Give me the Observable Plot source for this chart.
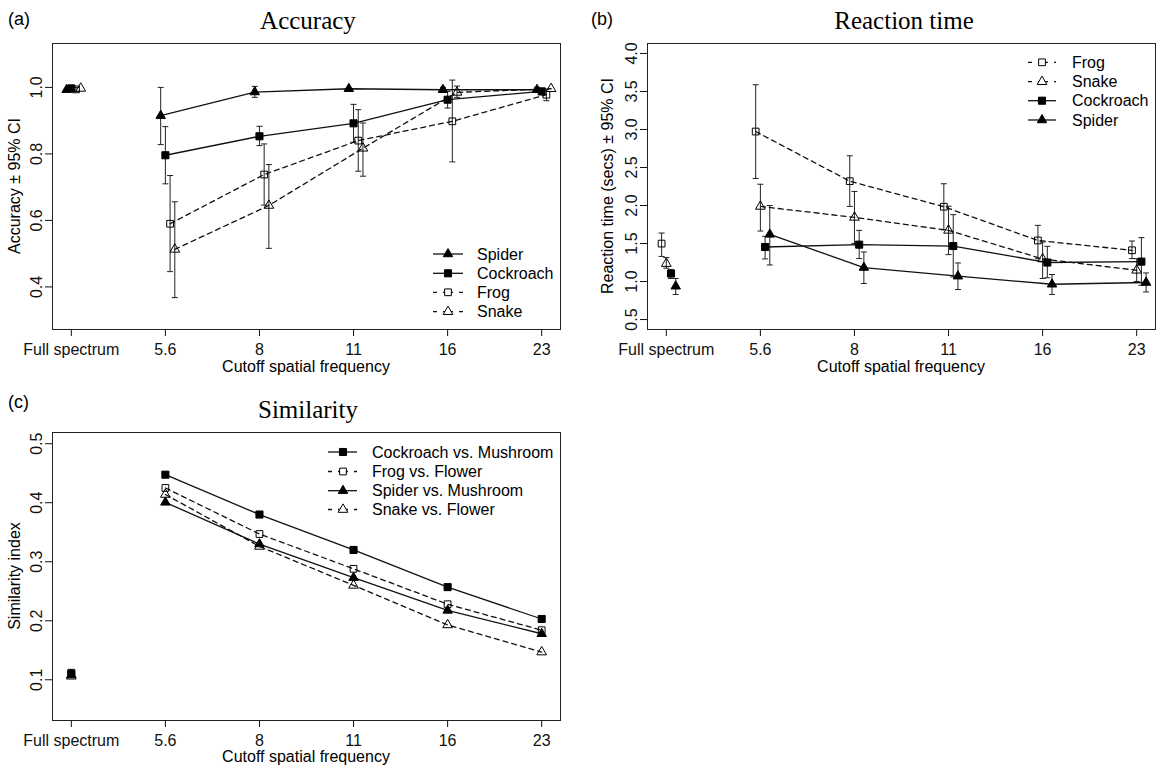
<!DOCTYPE html>
<html><head><meta charset="utf-8">
<script src="https://cdn.jsdelivr.net/npm/d3@7"></script>
<script src="https://cdn.jsdelivr.net/npm/@observablehq/plot@0.6"></script>
<style>
body{margin:0;background:#fff;}
#wrap{position:relative;width:1159px;height:768px;overflow:hidden;background:#fff;}
</style></head><body><div id="wrap"></div>
<script>
// ---------- data ----------
const xLabels = ["Full spectrum", "5.6", "8", "11", "16", "23"];

// (a) Accuracy (legend order)
const accNames = ["Spider", "Cockroach", "Frog", "Snake"];
const accSpider     = [0.993, 0.915, 0.986, 0.996, 0.993, 0.993];
const accSpiderLo   = [0.988, 0.828, 0.970, 0.990, 0.985, 0.986];
const accSpiderHi   = [0.998, 1.000, 1.003, 1.000, 1.000, 1.000];
const accCockroach   = [0.997, 0.796, 0.853, 0.892, 0.963, 0.988];
const accCockroachLo = [0.993, 0.710, 0.825, 0.835, 0.938, 0.978];
const accCockroachHi = [1.000, 0.882, 0.883, 0.949, 0.988, 0.996];
const accFrog   = [0.994, 0.590, 0.738, 0.840, 0.898, 0.978];
const accFrogLo = [0.988, 0.446, 0.646, 0.748, 0.776, 0.960];
const accFrogHi = [1.000, 0.735, 0.830, 0.933, 1.022, 0.995];
const accSnake   = [0.997, 0.513, 0.645, 0.817, 0.985, 0.996];
const accSnakeLo = [0.993, 0.368, 0.516, 0.733, 0.970, 0.990];
const accSnakeHi = [1.000, 0.656, 0.768, 0.893, 1.004, 1.000];

// (b) Reaction time (legend order)
const rtNames = ["Frog", "Snake", "Cockroach", "Spider"];
const rtFrog   = [1.499, 2.973, 2.320, 1.984, 1.540, 1.411];
const rtFrogLo = [1.330, 2.356, 1.988, 1.680, 1.300, 1.302];
const rtFrogHi = [1.638, 3.589, 2.654, 2.286, 1.739, 1.533];
const rtSnake   = [1.236, 1.988, 1.844, 1.673, 1.297, 1.148];
const rtSnakeLo = [1.175, 1.664, 1.500, 1.354, 1.040, 1.000];
const rtSnakeHi = [1.315, 2.280, 2.185, 1.990, 1.520, 1.300];
const rtCockroach   = [1.105, 1.454, 1.485, 1.467, 1.250, 1.262];
const rtCockroachLo = [1.040, 1.297, 1.302, 1.060, 1.050, 0.950];
const rtCockroachHi = [1.157, 1.595, 1.673, 1.880, 1.463, 1.577];
const rtSpider   = [0.938, 1.620, 1.184, 1.070, 0.964, 0.987];
const rtSpiderLo = [0.830, 1.218, 0.974, 0.895, 0.830, 0.863];
const rtSpiderHi = [1.040, 2.000, 1.389, 1.244, 1.092, 1.113];

// (c) Similarity (legend order)
const simNames  = ["Cockroach", "Frog", "Spider", "Snake"];
const simLabels = ["Cockroach vs. Mushroom", "Frog vs. Flower", "Spider vs. Mushroom", "Snake vs. Flower"];
const simCockroach = [0.110, 0.4475, 0.380, 0.320, 0.257, 0.203];
const simFrog      = [0.112, 0.425, 0.347, 0.288, 0.228, 0.184];
const simSpider    = [0.108, 0.4006, 0.330, 0.273, 0.2175, 0.178];
const simSnake     = [0.106, 0.414, 0.326, 0.260, 0.193, 0.147];

const accTicks = [0.4, 0.6, 0.8, 1.0];
const rtTicks  = [0.5, 1.0, 1.5, 2.0, 2.5, 3.0, 3.5, 4.0];
const simTicks = [0.1, 0.2, 0.3, 0.4, 0.5];

// ---------- styles ----------
const styles = {
  Spider:    {dash: false, symbol: "triangle", filled: true,  r: 3.5},
  Cockroach: {dash: false, symbol: "square",   filled: true,  r: 4.0},
  Frog:      {dash: true,  symbol: "square",   filled: false, r: 3.8},
  Snake:     {dash: true,  symbol: "triangle", filled: false, r: 3.6}
};
const FONT = '"Liberation Sans", Arial, sans-serif';
const SERIF = '"Liberation Serif", "Times New Roman", serif';
const wrap = document.getElementById("wrap");
const capSymbol = {draw(ctx) { ctx.moveTo(-3, 0); ctx.lineTo(3, 0); }};
const xPos = xLabels.map((_, i) => i);

function buildRows(names, vals, los, his, offsets) {
  const rows = [];
  names.forEach((n, k) => {
    vals[k].forEach((v, i) => rows.push({
      s: n, i, x: i + offsets[k], v,
      lo: los ? los[k][i] : null, hi: his ? his[k][i] : null
    }));
  });
  return rows;
}

function makePanel(cfg) {
  const {rows, names, yDomain, yTicks, left, top, width, height, mt, mr, mb, ml, bars} = cfg;
  const marks = [];
  if (bars) {
    const b = rows.filter(d => d.hi - d.lo > 0.012 * (yDomain[1] - yDomain[0]));
    marks.push(Plot.link(b, {x1: "x", x2: "x", y1: "lo", y2: "hi", stroke: "#222", strokeWidth: 1}));
    marks.push(Plot.dot(b, {x: "x", y: "lo", symbol: capSymbol, r: 3, fill: "none", stroke: "#222", strokeWidth: 1}));
    marks.push(Plot.dot(b, {x: "x", y: "hi", symbol: capSymbol, r: 3, fill: "none", stroke: "#222", strokeWidth: 1}));
  }
  names.forEach(n => {
    const st = styles[n];
    marks.push(Plot.line(rows.filter(d => d.s === n && d.i > 0), {
      x: "x", y: "v", stroke: "#111", strokeWidth: 1.3,
      strokeDasharray: st.dash ? "5,4" : null
    }));
  });
  names.forEach(n => {
    const st = styles[n];
    marks.push(Plot.dot(rows.filter(d => d.s === n), {
      x: "x", y: "v", symbol: st.symbol, r: st.r,
      fill: st.filled ? "#000" : "none", stroke: "#000", strokeWidth: 1
    }));
  });
  marks.push(Plot.frame({stroke: "#222", strokeWidth: 1}));
  marks.push(Plot.axisX({ticks: xPos, tickFormat: i => xLabels[i], tickSize: 7, tickPadding: 7, label: null}));
  marks.push(Plot.axisY({ticks: yTicks, tickFormat: d => d.toFixed(1), tickRotate: -90, tickSize: 7, tickPadding: 4, label: null}));
  const svg = Plot.plot({
    width, height, marginTop: mt, marginRight: mr, marginBottom: mb, marginLeft: ml,
    x: {domain: [-0.2, 5.2], label: null},
    y: {domain: yDomain, label: null},
    style: {fontFamily: FONT, fontSize: "16px", color: "#111", background: "transparent", overflow: "visible"},
    marks
  });
  svg.style.position = "absolute";
  svg.style.left = left + "px";
  svg.style.top = top + "px";
  wrap.appendChild(svg);
}

const offs = [-0.05, 0, 0.05, 0.1];
const accRows = buildRows(accNames,
  [accSpider, accCockroach, accFrog, accSnake],
  [accSpiderLo, accCockroachLo, accFrogLo, accSnakeLo],
  [accSpiderHi, accCockroachHi, accFrogHi, accSnakeHi], offs);
const rtRows = buildRows(rtNames,
  [rtFrog, rtSnake, rtCockroach, rtSpider],
  [rtFrogLo, rtSnakeLo, rtCockroachLo, rtSpiderLo],
  [rtFrogHi, rtSnakeHi, rtCockroachHi, rtSpiderHi], offs);
const simRows = buildRows(simNames,
  [simCockroach, simFrog, simSpider, simSnake], null, null, [0, 0, 0, 0]);

makePanel({rows: accRows, names: accNames, yDomain: [0.272, 1.132], yTicks: accTicks,
  left: 0, top: 0, width: 580, height: 380, mt: 43, mr: 20, mb: 51, ml: 52, bars: true});
makePanel({rows: rtRows, names: rtNames, yDomain: [0.369, 4.131], yTicks: rtTicks,
  left: 590, top: 0, width: 569, height: 380, mt: 43, mr: 4, mb: 51, ml: 57, bars: true});
makePanel({rows: simRows, names: simNames, yDomain: [0.031, 0.519], yTicks: simTicks,
  left: 0, top: 390, width: 580, height: 378, mt: 42, mr: 20, mb: 48, ml: 52, bars: false});

// ---------- overlay text & legends ----------
const ov = d3.select(wrap).append("svg")
  .attr("width", 1159).attr("height", 768)
  .style("position", "absolute").style("left", "0px").style("top", "0px")
  .style("pointer-events", "none")
  .style("font-family", FONT).style("font-size", "16px");

function txt(x, y, s, opts = {}) {
  const t = ov.append("text").attr("x", x).attr("y", y).text(s).attr("fill", "#000");
  if (opts.anchor) t.attr("text-anchor", opts.anchor);
  if (opts.size) t.style("font-size", opts.size + "px");
  if (opts.family) t.style("font-family", opts.family);
  if (opts.rot) t.attr("transform", `rotate(-90 ${x} ${y})`);
  return t;
}
// panel tags
txt(8, 25, "(a)", {size: 18});
txt(591, 25, "(b)", {size: 18});
txt(8, 408, "(c)", {size: 18});
// titles
txt(308, 29, "Accuracy", {anchor: "middle", size: 25, family: SERIF});
txt(904, 29, "Reaction time", {anchor: "middle", size: 25, family: SERIF});
txt(308, 418, "Similarity", {anchor: "middle", size: 25, family: SERIF});
// x titles
txt(306, 372, "Cutoff spatial frequency", {anchor: "middle"});
txt(901, 372, "Cutoff spatial frequency", {anchor: "middle"});
txt(306, 762, "Cutoff spatial frequency", {anchor: "middle"});
// y titles
txt(20, 186, "Accuracy \u00b1 95% CI", {anchor: "middle", rot: true});
txt(613, 186, "Reaction time (secs) \u00b1 95% CI", {anchor: "middle", rot: true});
txt(20, 576, "Similarity index", {anchor: "middle", rot: true});

function legend(names, labels, x0, x1, xs, xt, ys) {
  names.forEach((n, k) => {
    const st = styles[n], y = ys[k];
    ov.append("line").attr("x1", x0).attr("x2", x1).attr("y1", y).attr("y2", y)
      .attr("stroke", "#111").attr("stroke-width", 1.3)
      .attr("stroke-dasharray", st.dash ? "4,6,10,6,4" : null);
    const type = st.symbol === "square" ? d3.symbolSquare : d3.symbolTriangle;
    ov.append("path").attr("transform", `translate(${xs},${y})`)
      .attr("d", d3.symbol(type, Math.PI * st.r * st.r)())
      .attr("fill", st.filled ? "#000" : "#fff").attr("stroke", "#000");
    txt(xt, y + 5.7, labels[k]);
  });
}
legend(accNames, accNames, 433, 463, 448, 477, [254, 273.3, 292.3, 311.7]);
legend(rtNames, rtNames, 1028, 1056, 1042, 1072, [62.3, 81.7, 100.7, 120]);
legend(simNames, simLabels, 328, 357, 343, 372, [452, 471.5, 490.7, 509.5]);
</script>
</body></html>
